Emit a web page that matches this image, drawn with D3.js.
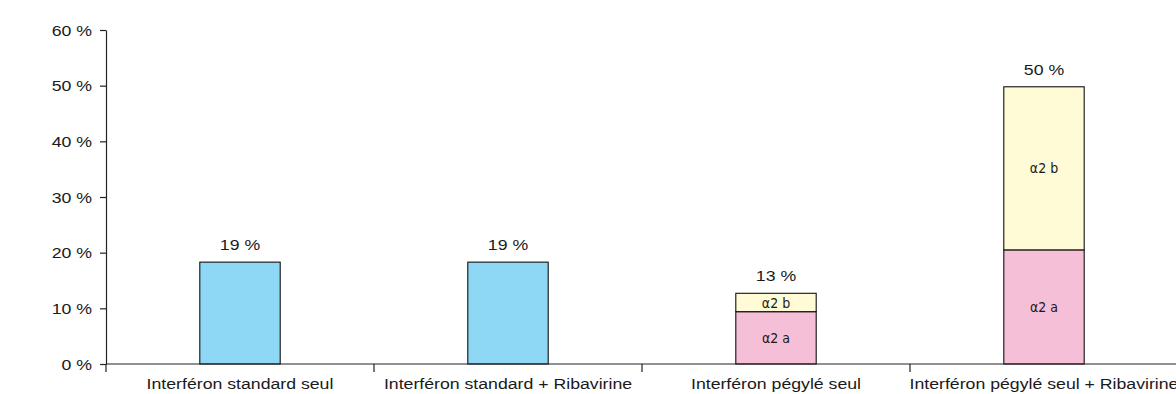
<!DOCTYPE html>
<html>
<head>
<meta charset="utf-8">
<script src="https://cdn.jsdelivr.net/npm/d3@7"></script>
<style>
html,body{margin:0;padding:0;background:#fff;}
svg{display:block;}
text{font-family:"Liberation Sans",Arial,Helvetica,sans-serif;fill:#1a1a1a;}
</style>
</head>
<body>
<svg id="chart" width="1176" height="394"></svg>
<script>
const categories = ["Interféron standard seul","Interféron standard + Ribavirine","Interféron pégylé seul","Interféron pégylé seul + Ribavirine"];
const standardValues = [18.3, 18.3, 0, 0];
const alpha2aValues = [0, 0, 9.4, 20.5];
const alpha2bValues = [0, 0, 3.3, 29.3];
const totalLabels = ["19 %","19 %","13 %","50 %"];
const yTicks = [0,10,20,30,40,50,60];
const seriesNames = ["standard","α2 a","α2 b"];
const seriesColors = ["#8ed8f5","#f5bfd8","#fefbd6"];

const svg = d3.select("#chart");
const x = d3.scaleBand().domain(categories).range([106, 1178]).padding(0);
const y = d3.scaleLinear().domain([0,60]).range([364, 30]);
const SX = 1.18;

const rows = categories.map((c,i)=>({cat:c, "standard":standardValues[i], "α2 a":alpha2aValues[i], "α2 b":alpha2bValues[i]}));
const stacked = d3.stack().keys(seriesNames)(rows);
const color = d3.scaleOrdinal().domain(seriesNames).range(seriesColors);
const bw = x.bandwidth()*0.3;

// bars
stacked.forEach(s=>{
  const g = svg.append("g");
  s.forEach((d,i)=>{
    if (d[1]-d[0] <= 0) return;
    const cx = x(categories[i]) + x.bandwidth()/2;
    g.append("rect")
      .attr("x", cx - bw/2)
      .attr("y", y(d[1]))
      .attr("width", bw)
      .attr("height", y(d[0]) - y(d[1]))
      .attr("fill", color(s.key))
      .attr("stroke", "#111")
      .attr("stroke-width", 1.1);
    if (s.key !== "standard") {
      svg.append("text")
        .attr("transform", `translate(${cx},${(y(d[0])+y(d[1]))/2})`)
        .attr("text-anchor","middle")
        .attr("dy","0.36em")
        .style("font-family",'"Liberation Sans Narrow","Arial Narrow","DejaVu Sans Condensed",sans-serif')
        .style("font-size","14px")
        .text(s.key);
    }
  });
});

// totals
const totals = categories.map((c,i)=>standardValues[i]+alpha2aValues[i]+alpha2bValues[i]);
categories.forEach((c,i)=>{
  svg.append("text")
    .attr("transform", `translate(${x(c)+x.bandwidth()/2},${y(totals[i])-12}) scale(${SX},1)`)
    .attr("text-anchor","middle")
    .style("font-size","15px")
    .text(totalLabels[i]);
});

// y axis
const yAxis = svg.append("g").attr("transform","translate(106,0)")
  .call(d3.axisLeft(y).tickValues(yTicks).tickFormat(d=>d+" %").tickSize(6).tickSizeOuter(0));
yAxis.select(".domain").attr("stroke","#222").attr("stroke-width",1.2);
yAxis.selectAll(".tick line").attr("stroke","#222").attr("stroke-width",1.2);
yAxis.selectAll(".tick text")
  .attr("x",null).attr("dy",null)
  .attr("transform",`translate(-14,5) scale(${SX},1)`)
  .attr("text-anchor","end")
  .style("font-size","15px")
  .style("font-family",'"Liberation Sans",Arial,sans-serif')
  .attr("fill","#1a1a1a");

// x axis
const xg = svg.append("g");
xg.append("line").attr("x1",106).attr("x2",1178).attr("y1",y(0)).attr("y2",y(0))
  .attr("stroke","#222").attr("stroke-width",1.2);
const bounds = categories.map(c=>x(c)).concat([x.range()[1]]);
bounds.forEach(b=>{
  xg.append("line").attr("x1",b).attr("x2",b).attr("y1",y(0)).attr("y2",y(0)+8)
    .attr("stroke","#222").attr("stroke-width",1.2);
});
categories.forEach(c=>{
  xg.append("text")
    .attr("transform",`translate(${x(c)+x.bandwidth()/2},389) scale(${SX},1)`)
    .attr("text-anchor","middle")
    .style("font-size","15px")
    .text(c);
});
</script>
</body>
</html>
